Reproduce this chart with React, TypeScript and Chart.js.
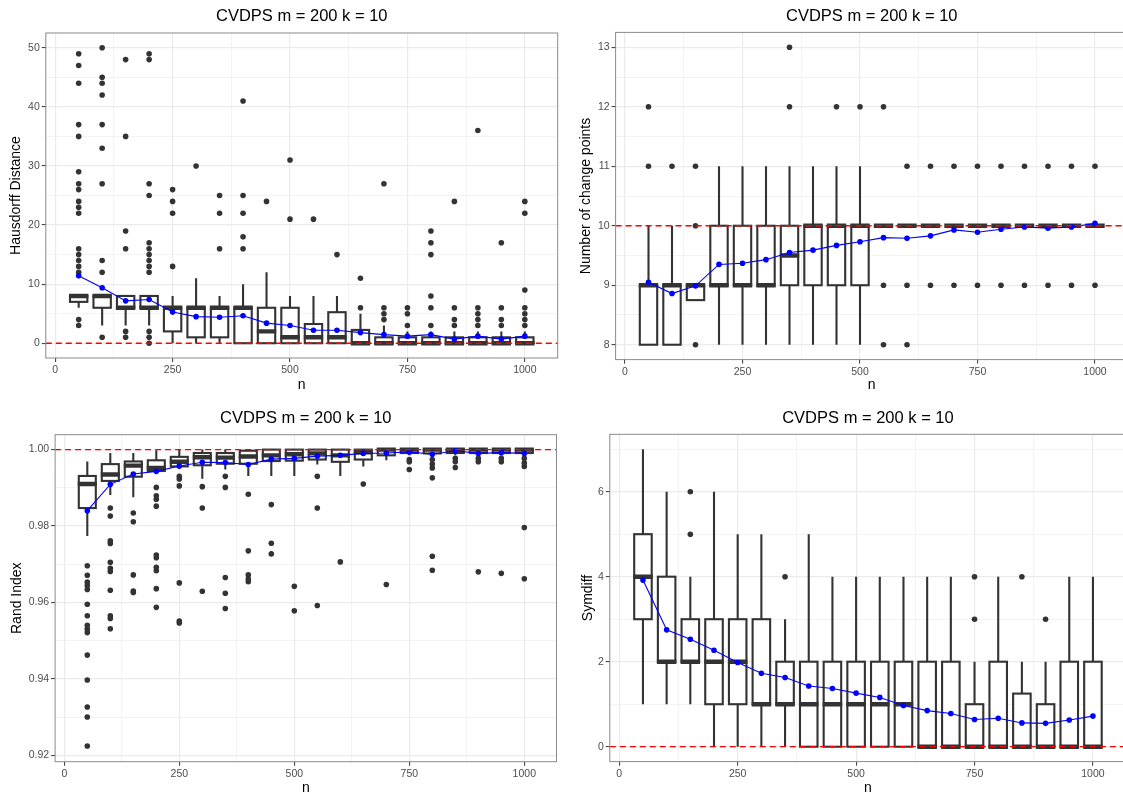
import React, { useEffect, useRef } from 'react';
import { Chart, registerables } from 'chart.js';

Chart.register(...registerables);
Chart.defaults.font.family = '"Liberation Sans", Arial, Helvetica, sans-serif';

// ---------- shared ----------
const nValues = [50, 100, 150, 200, 250, 300, 350, 400, 450, 500, 550, 600, 650, 700, 750, 800, 850, 900, 950, 1000];
const xMajorTicks = [0, 250, 500, 750, 1000];
const xMinorTicks = [125, 375, 625, 875];
const xRange = [-20, 1070];
const boxWidthUnits = 37;
const chartTitle = 'CVDPS m = 200 k = 10';
const xLabel = 'n';

// ---------- panel 1: Hausdorff Distance ----------
const hdYLabel = 'Hausdorff Distance';
const hdQ1 = [7, 6, 6, 6, 2, 1, 1, 0, 0, 0, 0, 0, 0, 0, 0, 0, 0, 0, 0, 0];
const hdMed = [8, 8, 6, 6, 6, 6, 6, 6, 2, 1, 1, 1, 0, 0, 0, 0, 0, 0, 0, 0];
const hdQ3 = [8, 8, 8, 8, 6, 6, 6, 6, 6, 6, 3.25, 5.25, 2.25, 1, 1, 1, 1, 1, 1, 1];
const hdLo = [6, 3, 3, 3, 0, 0, 0, 0, 0, 0, 0, 0, 0, 0, 0, 0, 0, 0, 0, 0];
const hdHi = [8, 8, 8, 8, 8, 11, 8, 10, 12, 8, 8, 8, 5, 3, 2, 2, 2, 2, 2, 2];
const hdMean = [11.4, 9.4, 7.17, 7.4, 5.27, 4.5, 4.4, 4.65, 3.4, 3.0, 2.2, 2.2, 1.8, 1.45, 1.2, 1.45, 0.7, 1.2, 0.7, 1.2];
const hdOutliers = [
  [3, 4, 12, 13, 14, 15, 16, 22, 23, 24, 26, 27, 29, 35, 37, 44, 47, 49],
  [1, 12, 14, 27, 33, 37, 42, 44, 45, 50],
  [1, 2, 16, 19, 35, 48],
  [0, 1, 2, 12, 13, 14, 15, 16, 17, 25, 27, 48, 49],
  [13, 22, 24, 26],
  [30],
  [16, 22, 25],
  [16, 18, 22, 25, 41],
  [24],
  [21, 31],
  [21],
  [15],
  [6, 11],
  [4, 5, 6, 27],
  [3, 5, 6],
  [3, 6, 8, 15, 17, 19],
  [3, 4, 6, 24],
  [3, 4, 5, 6, 36],
  [3, 4, 6, 17],
  [3, 4, 5, 6, 9, 22, 24],
];
const hdRef = 0;
const hdYRange = [-2.5, 52.5];
const hdYMajor = [0, 10, 20, 30, 40, 50];
const hdYMinor = [5, 15, 25, 35, 45];

// ---------- panel 2: Number of change points ----------
const cpYLabel = 'Number of change points';
const cpQ1 = [8, 8, 8.75, 9, 9, 9, 9, 9, 9, 9, 10, 10, 10, 10, 10, 10, 10, 10, 10, 10];
const cpMed = [9, 9, 9, 9, 9, 9, 9.5, 10, 10, 10, 10, 10, 10, 10, 10, 10, 10, 10, 10, 10];
const cpQ3 = [9, 9, 9, 10, 10, 10, 10, 10, 10, 10, 10, 10, 10, 10, 10, 10, 10, 10, 10, 10];
const cpLo = [8, 8, 8.75, 8, 8, 8, 8, 8, 8, 8, 10, 10, 10, 10, 10, 10, 10, 10, 10, 10];
const cpHi = [10, 10, 9, 11, 11, 11, 11, 11, 11, 11, 10, 10, 10, 10, 10, 10, 10, 10, 10, 10];
const cpMean = [9.05, 8.86, 8.99, 9.35, 9.37, 9.43, 9.55, 9.59, 9.67, 9.73, 9.8, 9.79, 9.83, 9.93, 9.89, 9.94, 9.98, 9.96, 9.98, 10.04];
const cpOutliers = [
  [11, 12], [11], [8, 10, 11], [], [], [], [12, 13], [], [12], [12],
  [8, 9, 12], [8, 9, 11], [9, 11], [9, 11], [9, 11], [9, 11], [9, 11], [9, 11], [9, 11], [9, 11],
];
const cpRef = 10;
const cpYRange = [7.75, 13.25];
const cpYMajor = [8, 9, 10, 11, 12, 13];
const cpYMinor = [8.5, 9.5, 10.5, 11.5, 12.5];

// ---------- panel 3: Rand Index ----------
const riYLabel = 'Rand Index';
const riQ1 = [0.9847, 0.9918, 0.9929, 0.9944, 0.9956, 0.9959, 0.9963, 0.9963, 0.997, 0.9971, 0.9974, 0.9968, 0.9974, 0.9985, 0.9991, 0.999, 0.9991, 0.9991, 0.9991, 0.9991];
const riMed = [0.991, 0.9935, 0.9958, 0.9952, 0.9968, 0.998, 0.9979, 0.9982, 0.9985, 0.9988, 0.999, 0.9985, 0.9993, 1, 1, 1, 1, 1, 1, 1];
const riQ3 = [0.9931, 0.9962, 0.9969, 0.9972, 0.9981, 0.9991, 0.9991, 0.9997, 1, 1, 1, 1, 1, 1, 1, 1, 1, 1, 1, 1];
const riLo = [0.9774, 0.9881, 0.9875, 0.9938, 0.995, 0.9924, 0.9948, 0.9931, 0.9931, 0.9931, 0.9961, 0.9931, 0.9956, 0.9972, 0.9985, 0.9982, 0.9985, 0.9985, 0.9985, 0.9985];
const riHi = [0.9969, 0.9991, 0.9991, 0.9998, 1, 1, 1, 1, 1, 1, 1, 1, 1, 1, 1, 1, 1, 1, 1, 1];
const riMean = [0.984, 0.9909, 0.9936, 0.9943, 0.9957, 0.9967, 0.9966, 0.9961, 0.9975, 0.9977, 0.9983, 0.9985, 0.999, 0.9991, 0.9994, 0.9988, 0.9997, 0.999, 0.9992, 0.999];
const riOutliers = [
  [0.9696, 0.9671, 0.9653, 0.9644, 0.9634, 0.9595, 0.9565, 0.954, 0.953, 0.9521, 0.9462, 0.9397, 0.9326, 0.93, 0.9224],
  [0.9847, 0.9826, 0.9761, 0.9754, 0.9705, 0.9689, 0.9681, 0.9632, 0.9565, 0.9558, 0.9531],
  [0.9834, 0.9811, 0.9672, 0.963, 0.9626],
  [0.9901, 0.9879, 0.987, 0.9852, 0.9724, 0.9717, 0.9692, 0.9683, 0.9636, 0.9587],
  [0.993, 0.9923, 0.9905, 0.9651, 0.9551, 0.9546],
  [0.9903, 0.9847, 0.9629],
  [0.993, 0.9901, 0.9665, 0.9624, 0.9584],
  [0.9883, 0.9735, 0.9672, 0.9661, 0.9654],
  [0.9856, 0.9755, 0.9727],
  [0.9642, 0.9578],
  [0.993, 0.9847, 0.9592],
  [0.9706],
  [0.991],
  [0.9647],
  [0.9974, 0.9968, 0.9948],
  [0.9974, 0.9962, 0.9952, 0.9926, 0.9721, 0.9684],
  [0.9977, 0.9968, 0.9953],
  [0.9977, 0.9968, 0.968],
  [0.9977, 0.9968, 0.9676],
  [0.9977, 0.9965, 0.9956, 0.9796, 0.9662],
];
const riRef = 1;
const riYRange = [0.9183, 1.0039];
const riYMajor = [0.92, 0.94, 0.96, 0.98, 1.0];
const riYMinor = [0.93, 0.95, 0.97, 0.99];

// ---------- panel 4: Symdiff ----------
const sdYLabel = 'Symdiff';
const sdQ1 = [3, 2, 2, 1, 1, 1, 1, 0, 0, 0, 0, 0, 0, 0, 0, 0, 0, 0, 0, 0];
const sdMed = [4, 2, 2, 2, 2, 1, 1, 1, 1, 1, 1, 1, 0, 0, 0, 0, 0, 0, 0, 0];
const sdQ3 = [5, 4, 3, 3, 3, 3, 2, 2, 2, 2, 2, 2, 2, 2, 1, 2, 1.25, 1, 2, 2];
const sdLo = [1, 1, 1, 0, 0, 0, 0, 0, 0, 0, 0, 0, 0, 0, 0, 0, 0, 0, 0, 0];
const sdHi = [7, 6, 4, 6, 5, 5, 3, 5, 4, 4, 4, 4, 4, 4, 2, 4, 2, 2, 4, 4];
const sdMean = [3.92, 2.75, 2.53, 2.27, 1.98, 1.73, 1.63, 1.43, 1.37, 1.26, 1.16, 0.97, 0.85, 0.78, 0.64, 0.67, 0.56, 0.55, 0.63, 0.72];
const sdOutliers = [
  [], [], [5, 6], [], [], [], [4], [], [], [], [], [], [], [], [3, 4], [], [4], [3], [], [],
];
const sdRef = 0;
const sdYRange = [-0.35, 7.35];
const sdYMajor = [0, 2, 4, 6];
const sdYMinor = [1, 3, 5, 7];

// ---------- styles / layout ----------
const BOX_COLOR = '#333333';
const GRID_COLOR = '#EBEBEB';
const TICK_TEXT = '#4D4D4D';
const TITLE_SIZE = 16.5;
const AXIS_TITLE_SIZE = 14;
const TICK_SIZE = 10.5;

type Spec = {
  yLabel: string; q1: number[]; med: number[]; q3: number[]; lo: number[]; hi: number[];
  mean: number[]; out: number[][]; ref: number; yRange: number[]; yMajor: number[]; yMinor: number[];
  fmt: (v: number) => string;
};

const specs: Spec[] = [
  { yLabel: hdYLabel, q1: hdQ1, med: hdMed, q3: hdQ3, lo: hdLo, hi: hdHi, mean: hdMean, out: hdOutliers, ref: hdRef, yRange: hdYRange, yMajor: hdYMajor, yMinor: hdYMinor, fmt: (v) => String(v) },
  { yLabel: cpYLabel, q1: cpQ1, med: cpMed, q3: cpQ3, lo: cpLo, hi: cpHi, mean: cpMean, out: cpOutliers, ref: cpRef, yRange: cpYRange, yMajor: cpYMajor, yMinor: cpYMinor, fmt: (v) => String(v) },
  { yLabel: riYLabel, q1: riQ1, med: riMed, q3: riQ3, lo: riLo, hi: riHi, mean: riMean, out: riOutliers, ref: riRef, yRange: riYRange, yMajor: riYMajor, yMinor: riYMinor, fmt: (v) => v.toFixed(2) },
  { yLabel: sdYLabel, q1: sdQ1, med: sdMed, q3: sdQ3, lo: sdLo, hi: sdHi, mean: sdMean, out: sdOutliers, ref: sdRef, yRange: sdYRange, yMajor: sdYMajor, yMinor: sdYMinor, fmt: (v) => String(v) },
];

type Box = { left: number; top: number; width: number; height: number; area: { l: number; r: number; t: number; b: number }; titleY: number; yTitleX: number; xTitleY: number };

const panelBoxes: Box[] = [
  { left: 0, top: 0, width: 562, height: 399, area: { l: 45.8, r: 557.7, t: 33, b: 358 }, titleY: 16, yTitleX: 16, xTitleY: 385 },
  { left: 562, top: 0, width: 570, height: 399, area: { l: 53.6, r: 565.9, t: 32.4, b: 359.6 }, titleY: 16, yTitleX: 24, xTitleY: 385 },
  { left: 0, top: 399, width: 562, height: 399, area: { l: 55.1, r: 556.5, t: 35.7, b: 362.7 }, titleY: 19, yTitleX: 17, xTitleY: 389 },
  { left: 562, top: 399, width: 570, height: 399, area: { l: 47.8, r: 564.1, t: 35.3, b: 362.6 }, titleY: 19, yTitleX: 26, xTitleY: 389 },
];

const near = (list: number[], v: number) => list.some((m) => Math.abs(m - v) < 1e-9);

function makeBoxPlugin(s: Spec) {
  return {
    id: 'boxplots',
    beforeDatasetsDraw(chart: any) {
      const { ctx, chartArea, scales } = chart;
      const x = scales.x;
      const y = scales.y;
      ctx.save();
      ctx.beginPath();
      ctx.rect(chartArea.left, chartArea.top, chartArea.right - chartArea.left, chartArea.bottom - chartArea.top);
      ctx.clip();
      ctx.strokeStyle = BOX_COLOR;
      ctx.lineCap = 'butt';
      ctx.lineJoin = 'miter';
      nValues.forEach((n, i) => {
        const cx = x.getPixelForValue(n);
        const l = x.getPixelForValue(n - boxWidthUnits / 2);
        const r = x.getPixelForValue(n + boxWidthUnits / 2);
        const yq1 = y.getPixelForValue(s.q1[i]);
        const yq3 = y.getPixelForValue(s.q3[i]);
        const ymed = y.getPixelForValue(s.med[i]);
        const ylo = y.getPixelForValue(s.lo[i]);
        const yhi = y.getPixelForValue(s.hi[i]);
        ctx.lineWidth = 2.1;
        ctx.beginPath();
        ctx.moveTo(cx, yq3);
        ctx.lineTo(cx, yhi);
        ctx.moveTo(cx, yq1);
        ctx.lineTo(cx, ylo);
        ctx.stroke();
        ctx.fillStyle = '#FFFFFF';
        ctx.fillRect(l, yq3, r - l, yq1 - yq3);
        ctx.strokeRect(l, yq3, r - l, yq1 - yq3);
        ctx.lineWidth = 4.4;
        ctx.beginPath();
        ctx.moveTo(l - 1, ymed);
        ctx.lineTo(r + 1, ymed);
        ctx.stroke();
      });
      ctx.restore();
    },
    afterDraw(chart: any) {
      const { ctx, chartArea } = chart;
      ctx.save();
      ctx.strokeStyle = '#8A8A8A';
      ctx.lineWidth = 1;
      ctx.strokeRect(chartArea.left, chartArea.top, chartArea.right - chartArea.left, chartArea.bottom - chartArea.top);
      ctx.restore();
    },
  };
}

function Panel({ spec, box }: { spec: Spec; box: Box }) {
  const ref = useRef<HTMLCanvasElement | null>(null);
  useEffect(() => {
    if (!ref.current) return;
    const lh = TITLE_SIZE * 1.2;
    const alh = AXIS_TITLE_SIZE * 1.2;
    const outlierPoints: { x: number; y: number }[] = [];
    nValues.forEach((n, i) => spec.out[i].forEach((v) => outlierPoints.push({ x: n, y: v })));
    const meanPoints = nValues.map((n, i) => ({ x: n, y: spec.mean[i] }));
    const refPoints = [{ x: xRange[0], y: spec.ref }, { x: xRange[1], y: spec.ref }];
    const xTicksAll = [...xMajorTicks, ...xMinorTicks].sort((a, b) => a - b);
    const yTicksAll = [...spec.yMajor, ...spec.yMinor].sort((a, b) => a - b);

    const chart = new Chart(ref.current, {
      type: 'line',
      data: {
        datasets: [
          {
            data: refPoints, borderColor: '#FF0000', borderWidth: 1.3, borderDash: [6, 4],
            pointRadius: 0, order: 0, fill: false,
          } as any,
          {
            data: meanPoints, borderColor: '#0000FF', borderWidth: 1.1, pointRadius: 2.8,
            pointBackgroundColor: '#0000FF', pointBorderWidth: 0, order: 1, fill: false, tension: 0,
          } as any,
          {
            data: outlierPoints, showLine: false, pointRadius: 2.8, pointBackgroundColor: BOX_COLOR,
            pointBorderWidth: 0, order: 2,
          } as any,
        ],
      },
      options: {
        animation: false,
        responsive: false,
        events: [],
        layout: { padding: { left: 0, top: 0, bottom: 0, right: box.width - box.area.r } },
        plugins: {
          legend: { display: false },
          tooltip: { enabled: false },
          title: {
            display: true,
            text: chartTitle,
            fullSize: false,
            color: '#000000',
            font: { size: TITLE_SIZE, weight: 'normal' },
            padding: { top: box.titleY - lh / 2, bottom: box.area.t - box.titleY - lh / 2 },
          },
        },
        scales: {
          x: {
            type: 'linear',
            min: xRange[0],
            max: xRange[1],
            afterBuildTicks: (s: any) => { s.ticks = xTicksAll.map((v) => ({ value: v })); },
            afterFit: (s: any) => { s.height = box.height - box.area.b; },
            border: { display: false },
            grid: {
              color: GRID_COLOR,
              lineWidth: (c: any) => (c.tick && near(xMajorTicks, c.tick.value) ? 1.2 : 0.6),
              tickLength: 4,
              tickWidth: 1,
              tickColor: (c: any) => (c.tick && near(xMajorTicks, c.tick.value) ? BOX_COLOR : 'rgba(0,0,0,0)'),
            },
            ticks: {
              autoSkip: false, maxRotation: 0, minRotation: 0, padding: 2, color: TICK_TEXT,
              font: { size: TICK_SIZE },
              callback: (v: any) => (near(xMajorTicks, Number(v)) ? String(v) : ''),
            },
            title: {
              display: true, text: xLabel, color: '#000000', font: { size: AXIS_TITLE_SIZE },
              padding: { top: 0, bottom: box.height - box.xTitleY - alh / 2 },
            },
          },
          y: {
            type: 'linear',
            min: spec.yRange[0],
            max: spec.yRange[1],
            afterBuildTicks: (s: any) => { s.ticks = yTicksAll.map((v) => ({ value: v })); },
            afterFit: (s: any) => { s.width = box.area.l; },
            border: { display: false },
            grid: {
              color: GRID_COLOR,
              lineWidth: (c: any) => (c.tick && near(spec.yMajor, c.tick.value) ? 1.2 : 0.6),
              tickLength: 4,
              tickWidth: 1,
              tickColor: (c: any) => (c.tick && near(spec.yMajor, c.tick.value) ? BOX_COLOR : 'rgba(0,0,0,0)'),
            },
            ticks: {
              autoSkip: false, padding: 2, color: TICK_TEXT, font: { size: TICK_SIZE },
              callback: (v: any) => (near(spec.yMajor, Number(v)) ? spec.fmt(Number(v)) : ''),
            },
            title: {
              display: true, text: spec.yLabel, color: '#000000', font: { size: AXIS_TITLE_SIZE },
              padding: { top: box.yTitleX - alh / 2, bottom: 0 },
            },
          },
        },
      } as any,
      plugins: [makeBoxPlugin(spec)],
    });
    return () => chart.destroy();
  }, [spec, box]);

  return (
    <div style={{ position: 'absolute', left: box.left, top: box.top, width: box.width, height: box.height }}>
      <canvas ref={ref} width={box.width} height={box.height} style={{ display: 'block', width: box.width, height: box.height }} />
    </div>
  );
}

export default function App() {
  return (
    <div style={{ position: 'fixed', left: 0, top: 0, width: 1123, height: 798, overflow: 'hidden', background: '#FFFFFF' }}>
      {specs.map((s, i) => (
        <Panel key={i} spec={s} box={panelBoxes[i]} />
      ))}
    </div>
  );
}
